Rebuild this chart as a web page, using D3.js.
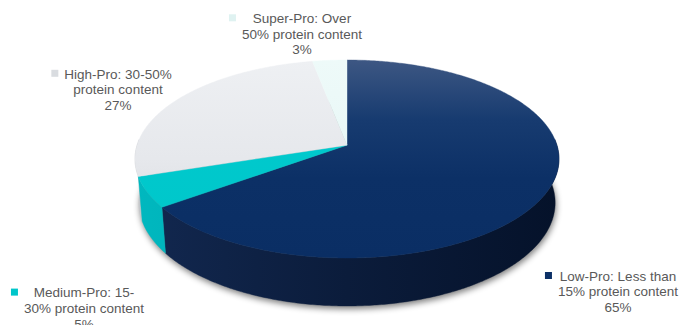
<!DOCTYPE html>
<html><head><meta charset="utf-8">
<script src="https://cdn.jsdelivr.net/npm/d3@7"></script>
<style>
body{margin:0;background:#fff}
svg{display:block}
text{font-family:"Liberation Sans",Arial,sans-serif;font-size:13.5px;fill:#595959}
</style>
</head><body>
<svg id="chart" width="681" height="325"></svg>
<script>
// ---- data ----
const categories = ["Low-Pro", "Medium-Pro", "High-Pro", "Super-Pro"];
const labelLines = [
  ["Low-Pro: Less than", "15% protein content"],
  ["Medium-Pro: 15-", "30% protein content"],
  ["High-Pro: 30-50%", "protein content"],
  ["Super-Pro: Over", "50% protein content"]
];
const values = [65, 5, 27, 3];
const percentLabels = ["65%", "5%", "27%", "3%"];

// ---- styles / layout ----
const topStops = [
  [["0", "#3d5783"], ["0.3", "#173b70"], ["0.6", "#0c3066"], ["1", "#0a2e64"]],
  [["0", "#00cbce"], ["1", "#00c6ca"]],
  [["0", "#eef0f3"], ["0.5", "#e6e8ec"], ["1", "#d6d8dc"]],
  [["0", "#eefaf9"], ["1", "#e2f4f3"]]
];
const sideStops = [
  [["0", "#14295000"], ["0", "#122850"], ["0.5", "#0b1c3b"], ["1", "#05122a"]],
  [["0", "#00b8bf"], ["1", "#0098a2"]],
  [["0", "#c4c6ca"], ["1", "#a8aaae"]],
  [["0", "#c7dcdb"], ["1", "#afc4c3"]]
];
const markerColors = ["#0c3066", "#00c6ca", "#d9dce0", "#dff2f1"];
const labelPos = [
  {cx: 618, y: 280.7},
  {cx: 84, y: 297.3},
  {cx: 118, y: 78.5},
  {cx: 302, y: 23}
];
const lineH = 15.6;
const box = {left: 135, right: 559, top: 60, bottom: 258};
const frontDepthPx = 48;

const svg = d3.select("#chart");
const defs = svg.append("defs");

// ---- 3D perspective projection ----
const alpha = 28 * Math.PI / 180, k = 0.14, D0 = Math.cos(alpha) / k;
function raw3(X, Y, z) {
  const yc = Y * Math.sin(alpha) + z * Math.cos(alpha);
  const dep = D0 + Y * Math.cos(alpha) - z * Math.sin(alpha);
  return [X / dep, -yc / dep];
}
const rawT = (t, z) => raw3(Math.sin(t), Math.cos(t), z);
let minx = Infinity, maxx = -Infinity, miny = Infinity, maxy = -Infinity;
for (let t = 0; t < 2 * Math.PI; t += 0.001) {
  const r = rawT(t, 0);
  minx = Math.min(minx, r[0]); maxx = Math.max(maxx, r[0]);
  miny = Math.min(miny, r[1]); maxy = Math.max(maxy, r[1]);
}
const xs = d3.scaleLinear().domain([minx, maxx]).range([box.left, box.right]);
const ys = d3.scaleLinear().domain([miny, maxy]).range([box.top, box.bottom]);
const P = (t, z) => { const r = rawT(t, z); return [xs(r[0]), ys(r[1])]; };
const C = (() => { const r = raw3(0, 0, 0); return [xs(r[0]), ys(r[1])]; })();

// find slab height giving the wanted front depth
let lo = 0, hi = 2;
for (let i = 0; i < 60; i++) {
  const m = (lo + hi) / 2;
  const d = P(Math.PI, -m)[1] - P(Math.PI, 0)[1];
  if (d > frontDepthPx) hi = m; else lo = m;
}
const H = (lo + hi) / 2;

const pie = d3.pie().sort(null).value(d => d);
const arcs = pie(values);
const line = d3.line();

function arcPts(a0, a1, z) {
  const n = Math.max(2, Math.ceil(Math.abs(a1 - a0) / 0.01));
  const pts = [];
  for (let i = 0; i <= n; i++) pts.push(P(a0 + (a1 - a0) * i / n, z));
  return pts;
}

// gradients
arcs.forEach((a, i) => {
  const g1 = defs.append("linearGradient").attr("id", "top" + i)
    .attr("gradientUnits", "userSpaceOnUse")
    .attr("x1", 0).attr("x2", 0).attr("y1", box.top).attr("y2", box.bottom);
  topStops[i].forEach(s => g1.append("stop").attr("offset", s[0]).attr("stop-color", s[1]));
  const g2 = defs.append("linearGradient").attr("id", "side" + i)
    .attr("gradientUnits", "userSpaceOnUse")
    .attr("x1", box.left).attr("x2", box.right).attr("y1", 0).attr("y2", 0);
  sideStops[i].filter(s => s[1].length === 7).forEach(s => g2.append("stop").attr("offset", s[0]).attr("stop-color", s[1]));
});

// shadow
const blur = defs.append("filter").attr("id", "blur")
  .attr("x", "-10%").attr("y", "-10%").attr("width", "120%").attr("height", "130%");
blur.append("feGaussianBlur").attr("stdDeviation", 3);
const bottomOutline = arcPts(0, 2 * Math.PI, -H);
svg.append("path")
  .attr("d", line(bottomOutline) + "Z")
  .attr("transform", "translate(1,3)")
  .attr("fill", "#000").attr("opacity", 0.5)
  .attr("filter", "url(#blur)");

// side walls (front facing part)
const visLo = Math.PI / 2 - 0.06, visHi = 3 * Math.PI / 2 + 0.06;
const walls = arcs.map((a, i) => {
  const t0 = Math.max(a.startAngle, visLo), t1 = Math.min(a.endAngle, visHi);
  return {i, t0, t1, mid: (a.startAngle + a.endAngle) / 2};
}).filter(w => w.t1 > w.t0)
  .sort((a, b) => Math.cos(b.mid) - Math.cos(a.mid));
walls.forEach(w => {
  const pts = arcPts(w.t0, w.t1, 0).concat(arcPts(w.t1, w.t0, -H));
  svg.append("path").attr("d", line(pts) + "Z")
    .attr("fill", `url(#side${w.i})`)
    .attr("stroke", `url(#side${w.i})`).attr("stroke-width", 0.4);
});

// top faces
arcs.forEach((a, i) => {
  const pts = [C].concat(arcPts(a.startAngle, a.endAngle, 0));
  svg.append("path").attr("d", line(pts) + "Z")
    .attr("fill", `url(#top${i})`)
    .attr("stroke", `url(#top${i})`).attr("stroke-width", 0.4);
});

// labels with legend keys
arcs.forEach((a, i) => {
  const pos = labelPos[i];
  const g = svg.append("g");
  const lines = labelLines[i].concat([percentLabels[i]]);
  const t = g.append("text").attr("text-anchor", "middle");
  lines.forEach((ln, j) => {
    t.append("tspan").attr("x", pos.cx).attr("y", pos.y + j * lineH).text(ln);
  });
  let maxW = 0;
  t.selectAll("tspan").each(function () { maxW = Math.max(maxW, this.getComputedTextLength()); });
  g.append("rect")
    .attr("x", pos.cx - maxW / 2 - 13).attr("y", pos.y - 8.7)
    .attr("width", 7).attr("height", 7)
    .attr("fill", markerColors[i]);
});
</script>
</body></html>
